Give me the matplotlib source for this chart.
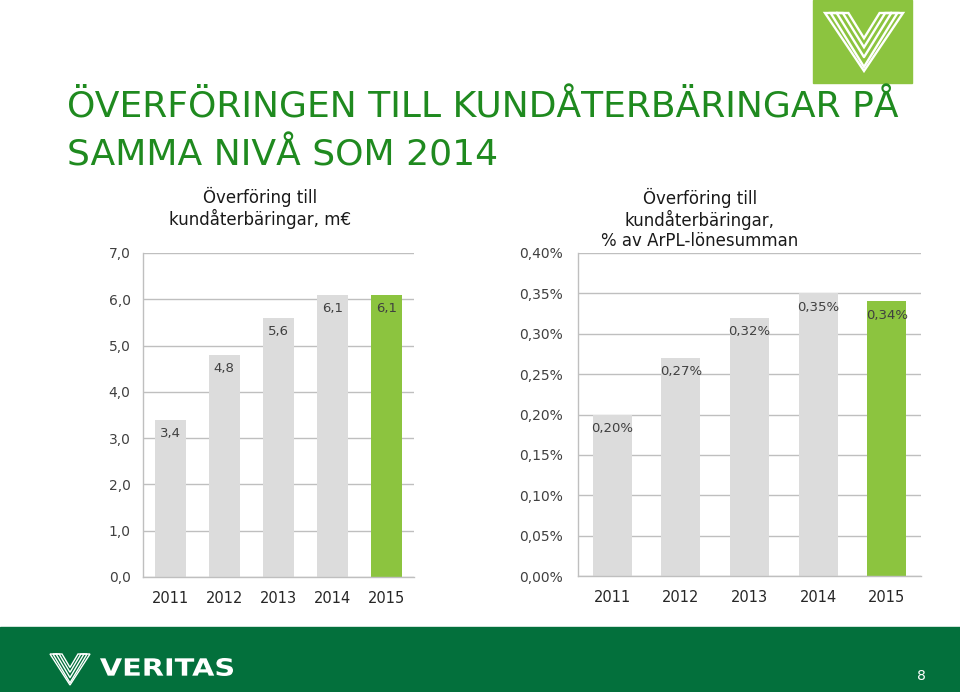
import matplotlib
matplotlib.use("Agg")
import matplotlib.pyplot as plt
from matplotlib.patches import Rectangle, Polygon, PathPatch
from matplotlib.textpath import TextPath
from matplotlib.font_manager import FontProperties
from matplotlib.transforms import Affine2D

# Data
years = ["2011", "2012", "2013", "2014", "2015"]
amount_meur = [3.4, 4.8, 5.6, 6.1, 6.1]
share_pct = [0.20, 0.27, 0.32, 0.35, 0.34]
amount_labels = ["3,4", "4,8", "5,6", "6,1", "6,1"]
share_labels = ["0,20%", "0,27%", "0,32%", "0,35%", "0,34%"]
amount_ticks = [0, 1, 2, 3, 4, 5, 6, 7]
share_ticks = [0.00, 0.05, 0.10, 0.15, 0.20, 0.25, 0.30, 0.35, 0.40]

GREY = "#dcdcdc"
LIME = "#8cc43f"
DARK_GREEN = "#03703c"
TITLE_GREEN = "#1f8a1f"
TEXT = "#404040"
GRID = "#bfbfbf"

fig = plt.figure(figsize=(9.6, 6.92), dpi=100)
W, H = 960, 692


def fx(px):
    return px / W


def fy(py):
    return 1 - py / H


# Header / footer decoration
fig.patches.append(Rectangle((0, 0), 1, fy(627), transform=fig.transFigure,
                             color=DARK_GREEN, zorder=0))
fig.patches.append(Rectangle((fx(813), fy(83)), fx(99), 83 / H,
                             transform=fig.transFigure, color=LIME, zorder=0))


def v_logo(x0, y0, w, h, lw):
    # nested stripes of a thick V, box (x0, y0) top-left in pixels
    hw = 0.15 * w                  # horizontal half width of one arm
    xl, xr = x0 + hw, x0 + w - hw  # arm centre lines at the top
    xm = x0 + w / 2
    ya = y0 + 0.76 * h             # apex of centre line
    slope = (ya - y0) / (xm - xl)
    for t in (hw, hw * 0.52):
        pts = [(xl - t, y0), (xl + t, y0), (xm, ya - t * slope),
               (xr - t, y0), (xr + t, y0), (xm, min(ya + t * slope, y0 + h))]
        fig.add_artist(Polygon([(fx(a), fy(b)) for a, b in pts], closed=True,
                               fill=False, edgecolor="white", lw=lw,
                               transform=fig.transFigure, joinstyle="miter"))
    fig.add_artist(plt.Line2D([fx(xl), fx(xm), fx(xr)], [fy(y0), fy(ya), fy(y0)],
                              color="white", lw=lw, transform=fig.transFigure))


v_logo(825, 13, 78, 58, 1.7)
v_logo(50, 654, 40, 31, 1.0)

# footer wordmark, stretched to the logo's width
tp = TextPath((0, 0), "VERITAS", size=1,
              prop=FontProperties(family="DejaVu Sans", weight="bold"))
ext = tp.get_extents()
sx = (233 - 100) / W / ext.width
sy = (18 / H) / ext.height
tr = Affine2D().translate(-ext.x0, -ext.y0).scale(sx, sy).translate(fx(100), fy(676))
fig.add_artist(PathPatch(tr.transform_path(tp), color="white", lw=0,
                         transform=fig.transFigure))
fig.text(fx(921), fy(676), "8", color="white", fontsize=10, va="center",
         ha="center")

# Main title
fig.text(fx(67), fy(118), "ÖVERFÖRINGEN TILL KUNDÅTERBÄRINGAR PÅ",
         color=TITLE_GREEN, fontsize=26, va="baseline")
fig.text(fx(67), fy(166), "SAMMA NIVÅ SOM 2014",
         color=TITLE_GREEN, fontsize=26, va="baseline")

ax1 = fig.add_axes([fx(143), fy(577), fx(414 - 143), (577 - 253) / H])
ax2 = fig.add_axes([fx(578), fy(576), fx(921 - 578), (576 - 253) / H])


def style(ax, vals, labels, ticks, ticklabels, ymax, ypad):
    x = range(len(years))
    colors = [GREY] * (len(vals) - 1) + [LIME]
    ax.bar(x, vals, width=0.57, color=colors, zorder=2)
    for xi, v, lab in zip(x, vals, labels):
        ax.annotate(lab, (xi, v), xytext=(0, -10), textcoords="offset points",
                    ha="center", va="center", fontsize=9.5, color=TEXT, zorder=3)
    ax.set_xlim(-0.5, len(years) - 0.5)
    ax.set_ylim(0, ymax)
    ax.set_yticks(ticks)
    ax.set_yticklabels(ticklabels, fontsize=10, color=TEXT)
    ax.set_xticks(list(x))
    ax.set_xticklabels(years, fontsize=10.5, color="#262626")
    ax.yaxis.grid(True, color=GRID, lw=1, zorder=0)
    ax.set_axisbelow(True)
    for s in ("top", "right"):
        ax.spines[s].set_visible(False)
    for s in ("left", "bottom"):
        ax.spines[s].set_color(GRID)
        ax.spines[s].set_linewidth(1)
    ax.tick_params(length=0)
    ax.tick_params(axis="x", pad=10)
    ax.tick_params(axis="y", pad=ypad)


style(ax1, amount_meur, amount_labels, amount_ticks,
      [f"{t:.1f}".replace(".", ",") for t in amount_ticks], 7, 9)
style(ax2, share_pct, share_labels, share_ticks,
      [f"{t:.2f}%".replace(".", ",") for t in share_ticks], 0.40, 11)

fig.text(fx(260), fy(208), "Överföring till\nkundåterbäringar, m€",
         ha="center", va="center", fontsize=12, color="#1a1a1a",
         linespacing=1.15)
fig.text(fx(700), fy(219), "Överföring till\nkundåterbäringar,\n% av ArPL-lönesumman",
         ha="center", va="center", fontsize=12, color="#1a1a1a",
         linespacing=1.15)

fig.savefig("out.png", dpi=100)
